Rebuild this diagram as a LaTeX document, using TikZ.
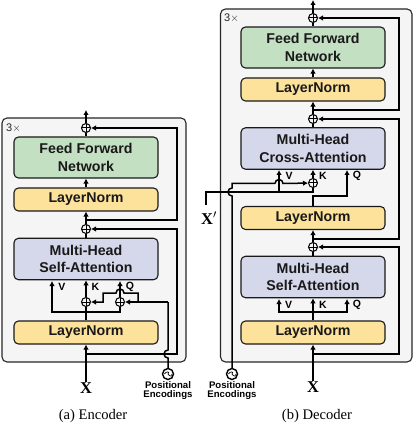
\documentclass[tikz,border=0pt]{standalone}
\usepackage{fontspec}
\setmainfont{Liberation Serif}
\setsansfont{Liberation Sans}
\usetikzlibrary{arrows.meta}
\definecolor{grn}{HTML}{C3E0C3}
\definecolor{ylw}{HTML}{FDE29B}
\definecolor{pur}{HTML}{D5D7EA}
\definecolor{bgb}{HTML}{F5F5F5}
\tikzset{
 blk/.style={draw=black!90,line width=1.1pt,rounded corners=4.5pt,minimum width=144pt,align=center,font=\sffamily\bfseries\fontsize{14.2}{17.2}\selectfont,inner sep=0pt,text=black!90},
 ffn/.style={blk,fill=grn,minimum height=41pt},
 lnorm/.style={blk,fill=ylw,minimum height=23pt},
 mha/.style={blk,fill=pur,minimum height=41.5pt},
 outer/.style={draw=black!85,line width=1.1pt,fill=bgb,rounded corners=5pt},
 wire/.style={line width=1.5pt,draw=black},
 arr/.style={wire,-{Latex[length=5pt,width=5.5pt]}},
 plusn/.style={circle,draw=black,line width=1pt,minimum size=9pt,inner sep=0pt,path picture={\draw[black,line width=1pt] (path picture bounding box.north)--(path picture bounding box.south) (path picture bounding box.west)--(path picture bounding box.east);}},
 sinen/.style={circle,draw=black,line width=1.4pt,fill=white,minimum size=11pt,inner sep=0pt,path picture={\draw[black,line width=0.7pt] (path picture bounding box.center) ++(-3.6pt,0) .. controls +(1.2pt,2.8pt) and +(2.4pt,2.8pt) .. (path picture bounding box.center) .. controls +(1.2pt,-2.8pt) and +(2.4pt,-2.8pt) .. ++(3.6pt,0);}},
 lab/.style={font=\sffamily\bfseries\fontsize{10.5}{11}\selectfont,inner sep=0pt},
 pe/.style={font=\sffamily\bfseries\fontsize{9.6}{8.8}\selectfont,align=center,inner sep=0pt},
 xlab/.style={font=\bfseries\fontsize{16.5}{16.5}\selectfont,inner sep=0pt},
 captext/.style={font=\fontsize{14.6}{15}\selectfont,inner sep=0pt},
 rep/.style={font=\sffamily\fontsize{11}{11}\selectfont,text=black!85,inner sep=0pt},
}
\begin{document}
\begin{tikzpicture}[x=1pt,y=-1pt]
\useasboundingbox (0,0) rectangle (415,427);
% ---- Encoder
\draw[outer] (2,118) rectangle (186,362);
\node[rep] (erep) at (13.5,128.5) {3$\times$};
\node[ffn] (effn) at (86,157.5) {Feed Forward\\Network};
\node[lnorm] (eln2) at (86,199.5) {LayerNorm};
\node[mha] (emha) at (86,259) {Multi-Head\\Self-Attention};
\node[lnorm] (eln1) at (86,332.5) {LayerNorm};
\node[plusn] (ep2) at (86,128) {};
\node[plusn] (ep1) at (86,229) {};
\node[plusn] (epk) at (86,302) {};
\node[plusn] (epq) at (120,302) {};
\node[sinen] (epe) at (168,374) {};
\node[xlab] (ex) at (86,388) {X};
\node[pe] (epet) at (168,390.5) {Positional\\Encodings};
\node[captext] (ecap) at (93,416) {(a) Encoder};
\node[lab] at (62,287) {V};
\node[lab] at (95.5,287) {K};
\node[lab] at (130,287) {Q};
\coordinate (eout) at (86,110);
\draw[arr] (ep2) -- (eout);
\draw[wire] (ep2) -- (effn.north -| ep2);
\draw[arr] (eln2.north) -- (effn.south);
\draw[wire] (ep1) -- (emha.north);
\draw[arr] (ep1) -- (eln2.south);
\draw[arr] (epk) -- (emha.south);
\draw[wire] (eln1.north) -- (epk);
\draw[arr] (epq) -- (120,281);
\draw[arr] (86,312) -| (52,281);
\draw[wire] (86,312) -| (epq);
\draw[arr] (ex) -- (eln1.south);
\draw[arr] (86,220) -- (177,220) -- (177,128) -- (ep2);
\draw[arr] (86,354) -- (177,354) -- (177,229) -- (ep1);
\draw[wire] (epe) -- (168,358) arc[start angle=90,end angle=270,radius=4pt,y radius=-4pt] -- (168,302);
\draw[arr] (168,302) -- (epq);
\draw[arr] (138,302) -- (138,293) -- (124,293) arc[start angle=0,end angle=180,radius=4pt] -- (103,293) -- (103,302) -- (epk);
% ---- Decoder
\draw[outer] (220.5,9) rectangle (412,362);
\node[rep] (drep) at (231.5,18) {3$\times$};
\node[ffn] (dffn) at (313,47.5) {Feed Forward\\Network};
\node[lnorm] (dln3) at (313,89.5) {LayerNorm};
\node[mha] (dca) at (313,148.5) {Multi-Head\\Cross-Attention};
\node[lnorm] (dln2) at (313,218) {LayerNorm};
\node[mha] (dsa) at (313,277) {Multi-Head\\Self-Attention};
\node[lnorm] (dln1) at (313,332.5) {LayerNorm};
\node[plusn] (dp3) at (313,18) {};
\node[plusn] (dp2) at (313,119) {};
\node[plusn] (dp1) at (313,247) {};
\node[plusn] (dpk) at (313,183) {};
\node[sinen] (dpe) at (232,374) {};
\node[xlab] (dx) at (313,387) {X};
\node[xlab] (dxp) at (209,218) {X$'$};
\node[pe] (dpet) at (232,390.5) {Positional\\Encodings};
\node[captext] (dcap) at (317,416) {(b) Decoder};
\node[lab] at (289,176) {V};
\node[lab] at (323,176) {K};
\node[lab] at (357,176) {Q};
\node[lab] at (288.5,305) {V};
\node[lab] at (323,305) {K};
\node[lab] at (357,305) {Q};
\coordinate (dout) at (313,0);
\draw[arr] (dp3) -- (dout);
\draw[wire] (dp3) -- (dffn.north);
\draw[arr] (dln3.north) -- (dffn.south);
\draw[arr] (dp2) -- (dln3.south);
\draw[wire] (dca.north) -- (dp2);
\draw[arr] (dp1) -- (dln2.south);
\draw[wire] (dsa.north) -- (dp1);
\draw[arr] (dln1.north) -- (dsa.south);
\draw[arr] (313,312) -| (279,299);
\draw[arr] (313,312) -| (347,299);
\draw[arr] (dx) -- (dln1.south);
\draw[arr] (313,110) -- (399,110) -- (399,18) -- (dp3);
\draw[arr] (313,239) -- (399,239) -- (399,119) -- (dp2);
\draw[arr] (313,354) -- (399,354) -- (399,247) -- (dp1);
\draw[arr] (dln2.north) |- (347,196) -- (347,170);
\draw[arr] (dpk) -- (dca.south);
\draw[wire] (206,205) -- (206,192) -- (313,192) -- (dpk);
\draw[arr] (279,192) -- (279,170);
\draw[wire] (dpe) -- (232,196) arc[start angle=90,end angle=270,radius=4pt,y radius=-4pt] -- (232,183.5) -- (275,183.5);
\draw[arr] (275,183.5) arc[start angle=180,end angle=0,radius=4pt] -- (dpk);
\end{tikzpicture}
\end{document}
